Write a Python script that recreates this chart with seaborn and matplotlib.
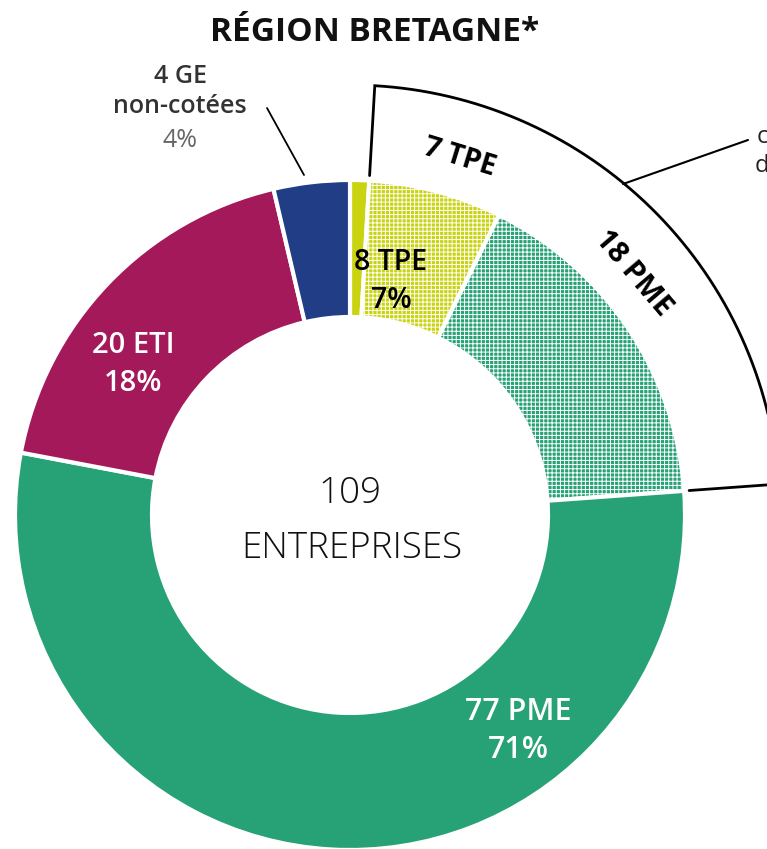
import numpy as np
import matplotlib.pyplot as plt
import seaborn as sns

# data: parts of the ring, clockwise from the top
segments = ["TPE", "TPE hachuré", "PME hachuré", "PME", "ETI", "GE"]
counts = [1, 7, 18, 59, 20, 4]
colors = ["#c9d30f", "#c9d30f", "#26a276", "#26a276", "#a3195a", "#203d86"]
hatched = [False, True, True, False, False, False]

total = sum(counts)
tpe_total = counts[0] + counts[1]
pme_total = counts[2] + counts[3]

sns.set_theme(style="white")
plt.rcParams["font.family"] = ["Open Sans", "DejaVu Sans"]
plt.rcParams["hatch.linewidth"] = 0.7

W, H = 767, 849
fig = plt.figure(figsize=(W / 100, H / 100), dpi=100)
ax = fig.add_axes([0, 0, 1, 1])

cx, cy = 350, H - 515
R, ring = 335, 137

wedges, _ = ax.pie(counts, colors=colors, startangle=90, counterclock=False,
                   center=(cx, cy), radius=R,
                   wedgeprops=dict(width=ring, edgecolor="white", linewidth=3))
for w, h in zip(wedges, hatched):
    if h:
        w.set_hatch("++++")

ax.set_xlim(0, W)
ax.set_ylim(0, H)
ax.axis("off")


def pol(r, ang):
    a = np.deg2rad(ang)
    return cx + r * np.cos(a), cy + r * np.sin(a)


def py(y):
    return H - y


# outline around the hatched parts
th1 = 90 - counts[0] / total * 360
th2 = 90 - (counts[0] + counts[1] + counts[2]) / total * 360
r0, r1 = 340, 430
arc = np.linspace(th1, th2, 200)
xs = [pol(r0, th1)[0]] + [pol(r1, a)[0] for a in arc] + [pol(r0, th2)[0]]
ys = [pol(r0, th1)[1]] + [pol(r1, a)[1] for a in arc] + [pol(r0, th2)[1]]
ax.plot(xs, ys, color="black", lw=2, solid_joinstyle="miter")

a7 = 72.9
x, y = pol(374, a7)
ax.text(x, y, f"{counts[1]} TPE", rotation=a7 - 90, ha="center", va="center",
        fontsize=20.5, fontweight="bold", color="black")
a18 = 40.4
x, y = pol(372, a18)
ax.text(x, y, f"{counts[2]} PME", rotation=a18 - 90, ha="center", va="center",
        fontsize=21, fontweight="bold", color="black")

# leader line to the cut-off note on the right
ax.plot([623, 748], [py(184), py(140)], color="black", lw=1.5)
ax.text(757, py(137), "cibles", fontsize=17, color="#222222", va="center", ha="left")
ax.text(755, py(166), "du dispositif", fontsize=17, color="#222222", va="center", ha="left")

# title
ax.text(375, py(32), "RÉGION BRETAGNE*", ha="center", va="center",
        fontsize=24, fontweight="bold", color="#111111")

# centre
ax.text(cx, py(493), f"{total}", ha="center", va="center", fontsize=26.5,
        fontweight="light", color="#111111")
ax.text(cx + 2, py(548), "ENTREPRISES", ha="center", va="center", fontsize=26.5,
        fontweight="light", color="#111111")


# segment labels
def pct(n):
    return f"{round(n / total * 100)}%"


ax.text(391, py(262), f"{tpe_total} TPE", ha="center", va="center", fontsize=20.5,
        fontweight="semibold", color="black")
ax.text(391, py(300), pct(tpe_total), ha="center", va="center", fontsize=20.5,
        fontweight="semibold", color="black")
ax.text(133, py(345), f"{counts[4]} ETI", ha="center", va="center", fontsize=21,
        fontweight="semibold", color="white")
ax.text(133, py(383), pct(counts[4]), ha="center", va="center", fontsize=21,
        fontweight="semibold", color="white")
ax.text(518, py(712), f"{pme_total} PME", ha="center", va="center", fontsize=22,
        fontweight="semibold", color="white")
ax.text(518, py(750), pct(pme_total), ha="center", va="center", fontsize=22,
        fontweight="semibold", color="white")

# GE label outside
ax.plot([267, 304], [py(108), py(175)], color="black", lw=1.3)
ax.text(180, py(76), f"{counts[5]} GE", ha="center", va="center", fontsize=18,
        fontweight="semibold", color="#333333")
ax.text(180, py(106), "non-cotées", ha="center", va="center", fontsize=18,
        fontweight="semibold", color="#333333")
ax.text(180, py(140), pct(counts[5]), ha="center", va="center", fontsize=18,
        color="#666666")

fig.savefig("out.png", dpi=100)
